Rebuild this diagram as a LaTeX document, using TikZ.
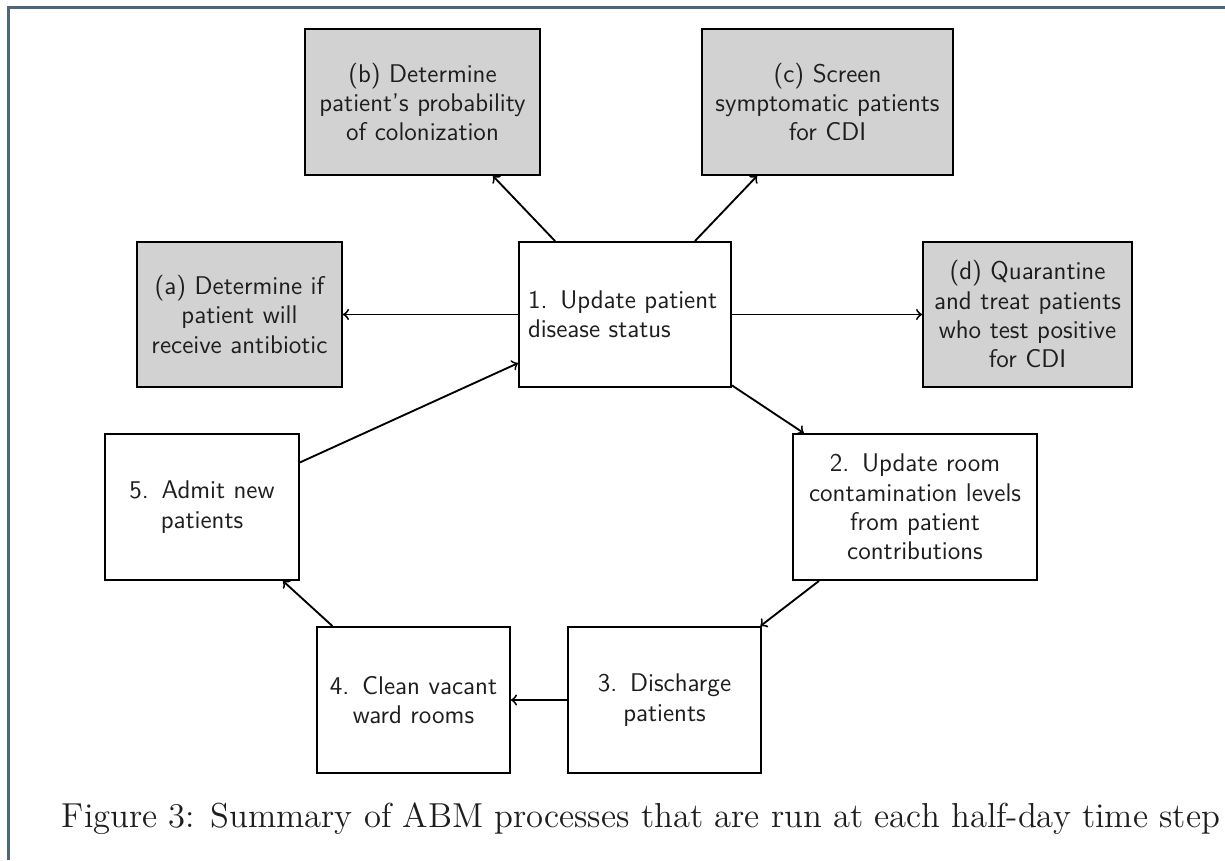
\documentclass[tikz,border=0pt]{standalone}
\usetikzlibrary{calc}
\definecolor{framec}{HTML}{4D667C}
\definecolor{boxgray}{HTML}{D2D2D2}
\definecolor{inkc}{HTML}{1E1E1E}
\def\pxu{0.43pt}
\begin{document}
\begin{tikzpicture}[x=0.43pt,y=-0.43pt,
  box/.style={draw=black, line width=0.8pt, fill=white, align=center, inner sep=0pt,
    font=\sffamily\fontsize{11}{12.6}\selectfont, text=inkc},
  gbox/.style={box, fill=boxgray},
  arr/.style={->, line width=0.8pt}]
\useasboundingbox (0,0) rectangle (1225,860);
\fill[white] (0,0) rectangle (1225,860);
\draw[color=framec, line width=0.9pt] (8.5,860) -- (8.5,7.5) -- (1225,7.5);
\node[gbox, minimum width=235*\pxu, minimum height=146*\pxu, text width=215*\pxu] (b) at (422.5,102)
  {(b) Determine\\patient's probability\\of colonization};
\node[gbox, minimum width=251*\pxu, minimum height=146*\pxu, text width=231*\pxu] (c) at (827.5,102)
  {(c) Screen\\symptomatic patients\\for CDI};
\node[gbox, minimum width=205*\pxu, minimum height=145*\pxu, text width=187*\pxu] (a) at (239.5,314.5)
  {(a) Determine if\\patient will\\receive antibiotic};
\node[box, align=left, minimum width=212*\pxu, minimum height=145*\pxu, text width=194*\pxu] (n1) at (625,314.5)
  {1. Update patient\\disease status};
\node[gbox, minimum width=209*\pxu, minimum height=145*\pxu, text width=193*\pxu] (d) at (1027.5,314.5)
  {(d) Quarantine\\and treat patients\\who test positive\\for CDI};
\node[box, minimum width=244*\pxu, minimum height=146*\pxu, text width=224*\pxu] (n2) at (915,507)
  {2. Update room\\contamination levels\\from patient\\contributions};
\node[box, minimum width=194*\pxu, minimum height=146*\pxu, text width=174*\pxu] (n5) at (202,507)
  {5. Admit new\\patients};
\node[box, minimum width=193*\pxu, minimum height=146*\pxu, text width=173*\pxu] (n3) at (664.5,700)
  {3. Discharge\\patients};
\node[box, minimum width=193*\pxu, minimum height=146*\pxu, text width=173*\pxu] (n4) at (413.5,700)
  {4. Clean vacant\\ward rooms};
\node[anchor=base, font=\fontsize{14.9}{18}\selectfont, text=inkc] (cap) at (641,827)
  {Figure 3: Summary of ABM processes that are run at each half-day time step};
\draw[arr] (n1) -- (a);
\draw[arr] (n1) -- (d);
\draw[arr] (n1) -- (b);
\draw[arr] (n1) -- (c);
\draw[arr] (n1) -- (n2);
\draw[arr] (n2) -- (n3);
\draw[arr] (n3) -- (n4);
\draw[arr] (n4) -- (n5);
\draw[arr] (n5) -- (n1);
\end{tikzpicture}
\end{document}
